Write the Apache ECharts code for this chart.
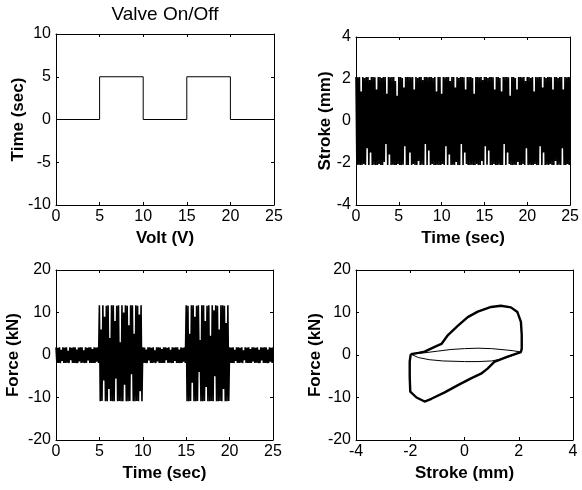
<!DOCTYPE html>
<html>
<head>
<meta charset="utf-8">
<script src="https://cdn.jsdelivr.net/npm/echarts@6/dist/echarts.min.js"></script>
<style>
html,body{margin:0;padding:0;background:#fff;}
#chart{width:582px;height:490px;}
</style>
</head>
<body>
<div id="chart"></div>
<script>
// ---------------- DATA ----------------
// Valve On/Off (top-left): step signal
const valveTime  = [0, 5, 5, 10, 10, 15, 15, 20, 20, 25];
const valveLevel = [0, 0, 5, 5, 0, 0, 5, 5, 0, 0];

// Sampling step of the recorded oscillations (s); high peaks at 0, 0.2, 0.4 ... low peaks at 0.1, 0.3 ...
const sampleStep = 0.1;

// Stroke (top-right): successive positive / negative peaks (mm)
const strokeHigh = [
  2.1,2.08,2.1,1.4,2.1,2.05,2.1,2.1,1.95,2.1,
  2.1,2.08,1.5,2.1,2.1,2.05,2.1,2.1,1.3,2.1,
  2.08,2.1,2.1,1.9,1.2,2.1,2.1,2.05,1.6,2.1,
  2.1,2.1,2.08,2.1,1.5,2.1,2.05,2.1,2.1,1.95,
  2.1,2.1,2.08,2.1,2.1,2.05,2.1,1.4,2.1,2.1,
  1.3,2.1,2.08,2.1,2.1,1.9,2.1,2.1,1.6,2.1,
  2.05,2.1,2.1,2.08,1.5,2.1,2.1,2.1,2.05,1.3,
  2.1,2.1,2.08,2.1,1.95,2.1,2.1,2.05,2.1,2.1,
  2.08,1.5,2.1,2.1,2.05,1.4,2.1,2.1,2.1,2.08,
  1.2,2.1,2.1,2.05,1.5,2.1,2.1,2.08,2.1,1.9,
  2.1,2.1,2.05,2.1,1.4,2.1,2.08,2.1,2.1,1.6,
  2.1,2.05,2.1,2.1,2.08,1.5,2.1,2.1,2.05,2.1,
  2.1,1.5,2.1,2.08,2.1,2.1
];
const strokeLow = [
  -2.1,-2.08,-2.1,-2.1,-2.05,-2.1,-1.3,-2.1,-1.5,-2.1,
  -2.08,-2.1,-2.1,-2.05,-2.1,-2.1,-1.95,-1.1,-2.1,-1.6,
  -2.1,-2.08,-2.1,-2.1,-2.05,-2.1,-2.1,-2.08,-1.2,-2.1,
  -2.1,-1.5,-2.1,-2.05,-2.1,-2.1,-1.9,-2.1,-2.08,-2.1,
  -1.1,-2.1,-1.4,-2.1,-2.05,-2.1,-2.1,-2.08,-2.1,-2.1,
  -2.05,-2.1,-1.2,-2.1,-1.6,-2.1,-2.08,-2.1,-1.95,-2.1,
  -2.1,-1.1,-2.1,-1.5,-2.05,-2.1,-2.1,-2.08,-2.1,-2.1,
  -2.05,-2.1,-2.1,-1.9,-2.1,-1.2,-2.08,-1.4,-2.1,-2.1,
  -2.05,-2.1,-2.1,-2.08,-2.1,-2.1,-1.1,-2.1,-1.5,-2.05,
  -2.1,-2.1,-2.08,-2.1,-1.95,-2.1,-2.1,-2.05,-2.1,-1.3,
  -2.1,-2.08,-2.1,-2.1,-2.05,-2.1,-2.1,-1.2,-2.1,-1.5,
  -2.1,-2.08,-2.1,-2.05,-2.1,-2.1,-1.9,-2.1,-2.08,-2.1,
  -1.3,-2.1,-2.1,-2.05,-2.1
];

// Force (bottom-left): successive positive / negative peaks (kN)
const forceHigh = [
  1.8,1.7,1.8,1.2,1.8,1.75,1.8,1.0,1.8,1.7,
  1.8,1.8,1.3,1.75,1.8,1.8,1.1,1.8,1.7,1.8,
  1.8,1.4,1.8,1.75,1.8,
  11.7,6.0,11.7,9.0,11.6,11.7,4.0,11.7,11.7,8.0,11.6,11.7,3.0,11.7,10.0,11.7,11.6,7.0,11.7,11.7,5.0,11.7,11.6,9.5,11.7,
  1.8,1.75,1.3,1.8,1.8,1.7,1.8,1.1,1.8,1.8,1.75,1.4,1.8,1.8,1.7,1.8,1.2,1.8,1.75,1.8,1.8,1.3,1.8,1.7,1.8,
  11.7,11.6,5.0,11.7,11.7,9.0,11.6,11.7,3.5,11.7,11.7,8.0,11.6,11.7,4.5,11.7,10.5,11.7,11.6,6.0,11.7,11.7,11.6,7.5,11.7,
  1.8,1.75,1.8,1.2,1.8,1.8,1.7,1.8,1.1,1.8,1.75,1.8,1.4,1.8,1.8,1.7,1.8,1.2,1.8,1.75,1.8,1.8,1.3,1.8,1.7,1.8
];
const forceLow = [
  -1.9,-1.85,-1.9,-1.4,-1.9,-1.9,-1.8,-1.9,-1.2,-1.9,-1.85,-1.9,-1.9,-1.5,-1.9,-1.8,-1.9,-1.9,-1.3,-1.9,-1.85,-1.9,-1.9,-1.6,-1.9,
  -10.9,-10.8,-6.0,-10.9,-10.9,-8.0,-10.8,-10.9,-10.9,-5.5,-10.9,-10.8,-10.9,-10.9,-7.0,-10.9,-10.9,-10.8,-4.5,-10.9,-10.9,-10.8,-10.9,-8.5,-10.9,
  -1.9,-1.85,-1.9,-1.3,-1.9,-1.9,-1.8,-1.9,-1.5,-1.9,-1.85,-1.9,-1.9,-1.2,-1.9,-1.8,-1.9,-1.9,-1.4,-1.9,-1.85,-1.9,-1.9,-1.6,-1.9,
  -10.9,-10.9,-10.8,-6.5,-10.9,-10.9,-10.8,-4.0,-10.9,-10.9,-10.8,-7.5,-10.9,-10.9,-10.8,-10.9,-5.0,-10.9,-10.9,-10.8,-10.9,-8.0,-10.9,-10.9,-10.8,
  -1.9,-1.85,-1.9,-1.4,-1.9,-1.9,-1.8,-1.9,-1.2,-1.9,-1.85,-1.9,-1.9,-1.5,-1.9,-1.8,-1.9,-1.9,-1.3,-1.9,-1.85,-1.9,-1.9,-1.6,-1.9
];

// Force vs stroke (bottom-right): outer hysteresis loop
const loopStroke = [-1.98,-1.7,-1.47,-1.1,-0.85,-0.61,-0.24,0.12,0.49,0.98,1.34,1.71,1.95,2.08,2.11,2.11,2.08,1.59,1.1,0.85,0.61,0.24,-0.24,-0.73,-1.22,-1.47,-1.77,-2.0,-2.02,-2.02,-1.98];
const loopForce  = [0.2,0.5,0.8,1.9,2.6,4.7,6.9,8.9,10.2,11.3,11.6,11.2,10.1,7.8,4.7,1.5,0.7,-0.4,-1.6,-3.2,-4.4,-5.5,-7.1,-8.8,-10.3,-10.95,-10.0,-8.6,-5.0,-1.5,0.2];
// inner (valve off) loop
const innerStroke = [-1.98,-1.5,-1.0,-0.5,0,0.5,1.0,1.5,1.8,2.08,1.7,1.4,1.0,0.5,0,-0.8,-1.3,-1.7,-1.98];
const innerForce  = [0.2,0.5,0.9,1.3,1.5,1.6,1.5,1.2,1.0,0.7,-0.3,-0.9,-1.4,-1.55,-1.55,-1.4,-1.1,-0.6,0.2];

// Axis settings
const axisTitles = {
  x: ['Volt (V)', 'Time (sec)', 'Time (sec)', 'Stroke (mm)'],
  y: ['Time (sec)', 'Stroke (mm)', 'Force (kN)', 'Force (kN)']
};
const xRanges = [[0,25,5],[0,25,5],[0,25,5],[-4,4,2]];
const yRanges = [[-10,10,5],[-4,4,2],[-20,20,10],[-20,20,10]];
const chartTitle = 'Valve On/Off';

// ---------------- BUILD ----------------
function interleave(high, low) {
  const out = [];
  for (let i = 0; i < high.length; i++) {
    out.push([+(2 * i * sampleStep).toFixed(2), high[i]]);
    if (i < low.length) out.push([+((2 * i + 1) * sampleStep).toFixed(2), low[i]]);
  }
  return out;
}
function zipXY(xs, ys) { return xs.map((x, i) => [x, ys[i]]); }

const tickFont = '"Liberation Sans",Arial,sans-serif';
const nameFont = '"Liberation Sans",Arial,sans-serif';

const grids = [
  {left: 56, top: 34, width: 218, height: 171},
  {left: 356, top: 37, width: 217, height: 168},
  {left: 56, top: 270, width: 217, height: 170},
  {left: 356, top: 270, width: 217, height: 170}
];
const yNameGaps = [29, 22, 34, 32];

const xAxis = [], yAxis = [];
grids.forEach((g, i) => {
  const [xmin, xmax, xint] = xRanges[i];
  const [ymin, ymax, yint] = yRanges[i];
  const line = {show: true, onZero: false, lineStyle: {color: '#000', width: 1}};
  const tick = {show: true, inside: true, length: 3, lineStyle: {color: '#000', width: 1}};
  xAxis.push({
    type: 'value', gridIndex: i, position: 'bottom', min: xmin, max: xmax, interval: xint,
    axisLine: line, axisTick: tick, splitLine: {show: false},
    axisLabel: {color: '#000', fontSize: 16, fontFamily: tickFont, margin: 4},
    name: axisTitles.x[i], nameLocation: 'middle', nameGap: 25, nameMoveOverlap: false,
    nameTextStyle: {color: '#000', fontSize: 17, fontWeight: 'bold', fontFamily: nameFont}
  });
  xAxis.push({
    type: 'value', gridIndex: i, position: 'top', min: xmin, max: xmax, interval: xint,
    axisLine: line, axisTick: tick, splitLine: {show: false}, axisLabel: {show: false}
  });
  yAxis.push({
    type: 'value', gridIndex: i, position: 'left', min: ymin, max: ymax, interval: yint,
    axisLine: line, axisTick: tick, splitLine: {show: false},
    axisLabel: {color: '#000', fontSize: 16, fontFamily: tickFont, margin: 5},
    name: axisTitles.y[i], nameLocation: 'middle', nameGap: yNameGaps[i], nameRotate: 90,
    nameMoveOverlap: false,
    nameTextStyle: {color: '#000', fontSize: 17, fontWeight: 'bold', fontFamily: nameFont}
  });
  yAxis.push({
    type: 'value', gridIndex: i, position: 'right', min: ymin, max: ymax, interval: yint,
    axisLine: line, axisTick: tick, splitLine: {show: false}, axisLabel: {show: false}
  });
});

function lineSeries(gi, data, width) {
  return {
    type: 'line', xAxisIndex: 2 * gi, yAxisIndex: 2 * gi, data: data,
    showSymbol: false, symbol: 'none', silent: true, animation: false,
    lineStyle: {color: '#000', width: width || 1}
  };
}

const option = {
  animation: false,
  backgroundColor: '#fff',
  grid: grids,
  xAxis: xAxis,
  yAxis: yAxis,
  graphic: [{
    type: 'text', x: 165, y: 15,
    style: {text: chartTitle, align: 'center', verticalAlign: 'middle',
            font: '19px "Liberation Sans", Arial, sans-serif', fill: '#000'}
  }],
  series: [
    lineSeries(0, zipXY(valveTime, valveLevel), 1),
    lineSeries(1, interleave(strokeHigh, strokeLow), 1.6),
    lineSeries(2, interleave(forceHigh, forceLow), 1.6),
    lineSeries(3, zipXY(loopStroke, loopForce), 2.4),
    lineSeries(3, zipXY(innerStroke, innerForce), 1)
  ]
};

const chart = echarts.init(document.getElementById('chart'), null, {renderer: 'canvas'});
chart.setOption(option);
</script>
</body>
</html>
